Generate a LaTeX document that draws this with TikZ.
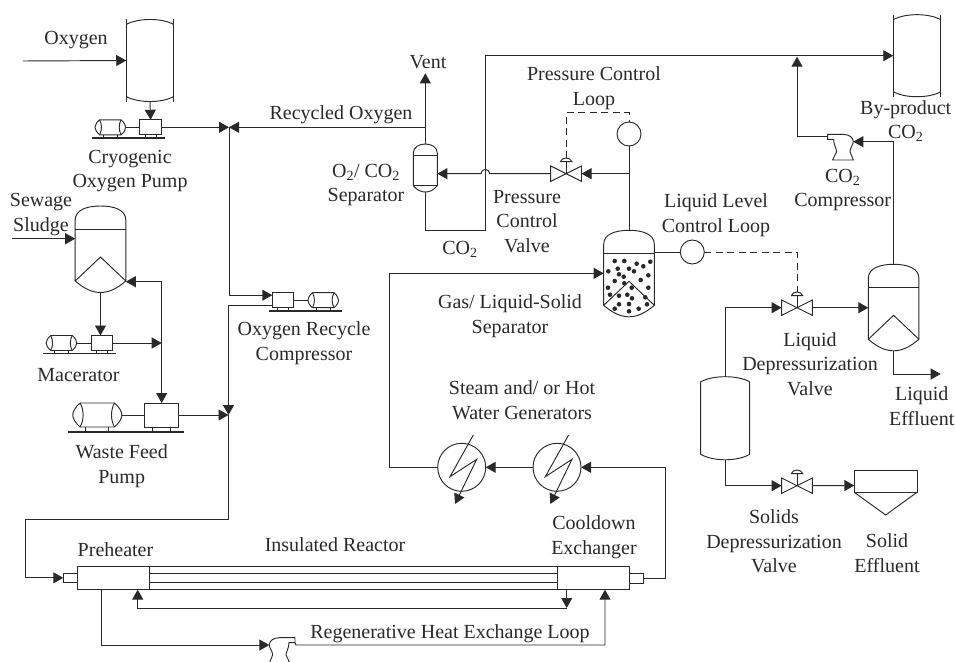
\documentclass[tikz,border=0pt]{standalone}
\usepackage{fontspec}
\setmainfont{Liberation Serif}
\usetikzlibrary{arrows.meta}
\definecolor{ink}{HTML}{2B2829}
\newcommand{\cotwo}{CO\textsubscript{2}}
\tikzset{
  pics/pump/.style={code={
    \draw (-10.7,-7.5) rectangle (10.7,7.5);
    \draw (-51,-7.5) -- (-29.5,-7.5) .. controls (-26.5,-5) and (-24.9,-2) .. (-24.9,0)
      .. controls (-24.9,2) and (-26.5,5) .. (-29.5,7.5) -- (-51,7.5)
      .. controls (-54,5) and (-55.6,2) .. (-55.6,0)
      .. controls (-55.6,-2) and (-54,-5) .. (-51,-7.5);
    \draw (-51,-7.5) .. controls (-48.5,-3) and (-48.5,3) .. (-51,7.5);
    \draw (-29.5,-7.5) .. controls (-32,-3) and (-32,3) .. (-29.5,7.5);
    \draw (-24.9,0) -- (-10.7,0);
    \foreach \f in {-47.5,-33,-5.5,5.5}
      \draw (\f,7.5) -- (\f,10.5);
    \draw[line width=1.7pt] (-58.6,10.5) -- (14,10.5);
    \coordinate (-n) at (0,-7.5);
    \coordinate (-front) at (10.7,0);
    \coordinate (-fa) at (10.7,-5);
    \coordinate (-fb) at (10.7,5);
  }},
  pics/drum/.style={code={
    \draw (-23.75,-41) -- (-23.75,41);
    \draw (23.75,-41) -- (23.75,41);
    \draw (-23.75,-36) .. controls (-12,-42.7) and (12,-42.7) .. (23.75,-36);
    \draw (-23.75,36) .. controls (-12,42.7) and (12,42.7) .. (23.75,36);
    \coordinate (-s) at (0,41);
    \coordinate (-w) at (-23.75,0);
  }},
  pics/vessel/.style={code={
    \draw (-24.5,-36.5) .. controls (-12,-43.3) and (12,-43.3) .. (24.5,-36.5)
      -- (24.5,36) .. controls (12,43.3) and (-12,43.3) .. (-24.5,36) -- cycle;
    \coordinate (-n) at (0,-41.7);
    \coordinate (-s) at (0,41.7);
  }},
  pics/settler/.style={code={
    \draw (-25.3,75) -- (-25.3,14) .. controls (-25.3,4) and (-14,0) .. (0,0)
      .. controls (14,0) and (25.3,4) .. (25.3,14) -- (25.3,75)
      .. controls (16,83) and (8,86.5) .. (0,86.5)
      .. controls (-8,86.5) and (-16,83) .. (-25.3,75) -- (0,51) -- (25.3,75);
    \draw (-25.3,23.5) -- (25.3,23.5);
    \coordinate (-n) at (0,0);
    \coordinate (-s) at (0,86.5);
    \coordinate (-w) at (-25.3,43);
    \coordinate (-e) at (25.3,43);
    \coordinate (-r) at (25.3,75.7);
  }},
  pics/flash/.style={code={
    \draw (-12,-15) .. controls (-12,-21) and (-6,-24) .. (0,-24)
      .. controls (6,-24) and (12,-21) .. (12,-15) -- (12,17.7)
      .. controls (8,22.5) and (4,24) .. (0,24)
      .. controls (-4,24) and (-8,22.5) .. (-12,17.7) -- cycle;
    \draw (-12,-13) -- (12,-13);
    \draw (-12,17.7) -- (12,17.7);
    \coordinate (-n) at (0,-24);
    \coordinate (-s) at (0,24);
    \coordinate (-e) at (12,5.7);
  }},
  pics/valve/.style={code={
    \draw (-15.4,-7.7) -- (15.4,7.7) -- (15.4,-7.7) -- (-15.4,7.7) -- cycle;
    \draw (0,0) -- (0,-12);
    \draw (-5.8,-12) -- (5.8,-12) .. controls (5,-14.5) and (2.5,-15.7) .. (0,-15.7)
      .. controls (-2.5,-15.7) and (-5,-14.5) .. (-5.8,-12);
    \coordinate (-w) at (-15.4,0);
    \coordinate (-e) at (15.4,0);
    \coordinate (-top) at (0,-15.7);
  }},
  pics/blower/.style={code={
    \draw (-25.7,-2.4) -- (-25.7,-7.3) -- (-10,-7.3) .. controls (-4,-7.3) and (0,-4) .. (0,0)
      .. controls (0,3) and (-3.3,6) .. (-3.3,10) -- (0,18.3) -- (-20.7,18.3) -- (-16.7,10)
      .. controls (-16.7,7) and (-19.7,3) .. (-19.7,-2.4) -- cycle;
    \coordinate (-in) at (0,0);
    \coordinate (-out) at (-25.7,-4.8);
    \coordinate (-low) at (-25.7,-2.4);
  }},
  pics/hopper/.style={code={
    \draw (-31.35,-11.15) rectangle (31.35,11.15);
    \draw (-31.35,11.15) -- (0,33.85) -- (31.35,11.15);
    \coordinate (-w) at (-31.35,4.35);
  }},
}
\begin{document}
\begin{tikzpicture}
  [x=1pt,y=-1pt,line width=0.95pt,color=ink,>={Triangle[length=10pt,width=11pt]},
   every node/.style={font=\fontsize{20}{24.7}\selectfont,text=ink,align=center,inner sep=0pt,outer sep=0pt},
   flow/.style={->},
   ctrlline/.style={dash pattern=on 7pt off 4.5pt},
   instrument/.style={circle,draw,minimum size=24pt},
   exchanger/.style={circle,draw,minimum size=48pt},
   shell/.style={rectangle,draw,minimum width=72.2pt,minimum height=23.7pt},
   stub/.style={rectangle,draw,minimum width=14pt,minimum height=9.7pt}]
  \useasboundingbox (0,0) rectangle (955,661);
  \clip (0,0) rectangle (955,661);

  \pic (oxytank) at (150,60.5) {drum};
  \pic (bytank) at (917,55.7) {drum};
  \pic (oxypump) at (150.6,127.3) {pump};
  \pic (macerator) at (101.7,343) {pump};
  \pic[scale=1.6] (wastepump) at (161.7,415) {pump};
  \pic[xscale=-1] (rcomp) at (283,300.2) {pump};
  \pic (sewage) at (100.5,206) {settler};
  \pic (gassep) at (629,230.3) {settler};
  \pic (liqsep) at (893.6,264.3) {settler};
  \pic (o2sep) at (425.3,168) {flash};
  \pic (slurry) at (725.2,418.3) {vessel};
  \pic (pvalve) at (566.1,173.7) {valve};
  \pic (lvalve) at (797,307.7) {valve};
  \pic (svalve) at (797,485.7) {valve};
  \pic (co2comp) at (853.3,141.7) {blower};
  \pic[xscale=-1] (regen) at (269.3,645) {blower};
  \pic (hopper) at (885.65,481.15) {hopper};

  \foreach \x/\y in {614.7/261,624.3/261,636.7/263.7,643.3/266.3,650.3/261.7,608.3/271.3,
      617.7/268.7,629/268.7,634/271.3,648.3/275.3,619/274.3,623.7/276.7,614.7/281,624.3/283.3,
      640.7/280,608/287.7,631.7/287.7,648.3/287.7,610/294.7,619/295.7,627.3/294.7,632/298.3,
      645.3/297.3,619/304.3,629/304,647/304.3,614.7/308.7,629/311.3,638.7/308.7}
    \fill (\x,\y) circle (2.3);

  \node[instrument] (pc) at (629,134) {};
  \node[instrument] (lc) at (692.3,252) {};
  \node[exchanger] (hx1) at (461.7,467.3) {};
  \node[exchanger] (hx2) at (557,467.3) {};
  \node[shell] (pre) at (113.5,577.85) {};
  \node[shell] (cool) at (593.2,577.85) {};
  \node[stub] (pstub) at (70.3,577.85) {};
  \node[stub] (cstub) at (636.6,578.3) {};

  \coordinate (o2in) at (23,61);
  \coordinate (sewin) at (12,238.7);
  \coordinate (junc1) at (229,127.3);
  \coordinate (junc2) at (228.5,415);
  \coordinate (junc3) at (797,56.7);
  \coordinate (junc4) at (629,173.7);
  \coordinate (vent) at (425.3,73.3);
  \coordinate (rec) at (425.3,127.3);
  \coordinate (feed) at (25.7,519);
  \coordinate (prod) at (485.3,230);
  \coordinate (hump) at (489.7,173.7);
  \coordinate (pcorner) at (629,112.7);
  \coordinate (back) at (389.3,273.3);
  \coordinate (hot) at (665,467.3);
  \coordinate (preout) at (101.7,589.7);
  \coordinate (prein) at (137.7,589.7);
  \coordinate (coolout) at (566.7,589.7);
  \coordinate (coolin) at (605,589.7);
  \coordinate (inner) at (566.7,608);
  \coordinate (outer) at (296,645);
  \coordinate (liqout) at (940.7,374);

  \foreach \from/\to in {o2in/oxytank-w,oxytank-s/oxypump-n,oxypump-front/junc1,rec/junc1,
      o2sep-n/vent,junc4/pvalve-e,hx2.west/hx1.east,coolout/inner}
    \draw[flow] (\from) -- (\to);

  \draw[flow] (sewin) -- (sewin -| sewage-w);
  \draw[flow] (sewage-s) -- (sewage-s |- macerator-n);
  \draw[<->] (sewage-r) -| (wastepump-n);
  \draw[flow] (macerator-front) -- (macerator-front -| wastepump-n);
  \draw[flow] (wastepump-front) -- (wastepump-front -| junc2);
  \draw[flow] (junc1) |- (rcomp-fa);
  \draw[flow] (rcomp-fb) -| (junc2);
  \draw[flow] (junc2) |- (feed) |- (pstub.west);
  \draw[flow] (o2sep-s) |- (prod) |- (bytank-w);
  \draw[flow] (co2comp-out) -| (junc3);
  \draw[flow] (liqsep-n) |- (co2comp-in);
  \draw (pc.south) -- (gassep-n);
  \draw[flow] (pvalve-w) -- (hump) arc[start angle=0,end angle=-180,radius=4.35] -- (o2sep-e);
  \draw[ctrlline] (pvalve-top) |- (pcorner) -- (pc.north);
  \draw (lc.west -| gassep-e) -- (lc.west);
  \draw[ctrlline] (lc.east) -| (lvalve-top);
  \draw[flow] (slurry-n) |- (lvalve-w);
  \draw[flow] (slurry-s) |- (svalve-w);
  \draw[flow] (lvalve-e) -- (lvalve-e -| liqsep-w);
  \draw[flow] (svalve-e) -- (hopper-w);
  \draw[flow] (liqsep-s) |- (liqout);
  \draw[flow] (hx1.west) -| (back) -- (gassep-w);
  \draw[flow] (cstub.east) -| (hot) -- (hx2.east);
  \draw[flow] (inner) -| (prein);
  \draw[flow] (preout) |- (regen-in);
  \draw[flow] (regen-low) -- (outer) -| (coolin);

  \foreach \h in {hx1,hx2}
    \draw[flow] ([shift={(11.6,-32.3)}]\h.center) -- ([shift={(-11.7,9.4)}]\h.center)
      -- ([shift={(15,-8)}]\h.center) -- ([shift={(-6.7,36.7)}]\h.center);
  \foreach \s in {-11.85,-4.85,4.85,11.85}
    \draw ([yshift=\s pt]pre.east) -- ([yshift=\s pt]cool.west);

  \begin{scope}[every node/.append style={yshift=-1.5pt}]
  \node (lOxygen) at (76,39) {Oxygen};
  \node (lCryo) at (130,169.5) {Cryogenic\\Oxygen Pump};
  \node (lSewage) at (41,213) {Sewage\\Sludge};
  \node (lMacerator) at (78.5,374) {Macerator};
  \node (lWaste) at (121.7,464.5) {Waste Feed\\Pump};
  \node (lRecycle) at (304,342) {Oxygen Recycle\\Compressor};
  \node (lPreheater) at (115.5,548) {Preheater};
  \node (lReactor) at (335,543) {Insulated Reactor};
  \node (lCooldown) at (594,536) {Cooldown\\Exchanger};
  \node (lRegen) at (450,632.7) {Regenerative Heat Exchange Loop};
  \node (lSteam) at (522,398.7) {Steam and/ or Hot\\Water Generators};
  \node (lGas) at (510,314.5) {Gas/ Liquid-Solid\\Separator};
  \node (lCO2) at (460,248) {\cotwo};
  \node (lPValve) at (527,220) {Pressure\\Control\\Valve};
  \node (lPLoop) at (594,87) {Pressure Control\\Loop};
  \node (lSep) at (366,183.5) {O\textsubscript{2}/ \cotwo\\Separator};
  \node (lVent) at (428,61) {Vent};
  \node (lRecycled) at (341,113) {Recycled Oxygen};
  \node (lByprod) at (905.7,119.5) {By-product\\\cotwo};
  \node (lCompressor) at (842.7,188.5) {\cotwo\\Compressor};
  \node (lLLoop) at (716,214) {Liquid Level\\Control Loop};
  \node (lLValve) at (810,362.5) {Liquid\\Depressurization\\Valve};
  \node (lLiquid) at (921.7,404.5) {Liquid\\Effluent};
  \node (lSValve) at (774,540) {Solids\\Depressurization\\Valve};
  \node (lSolid) at (887,551.5) {Solid\\Effluent};
  \end{scope}
\end{tikzpicture}
\end{document}
